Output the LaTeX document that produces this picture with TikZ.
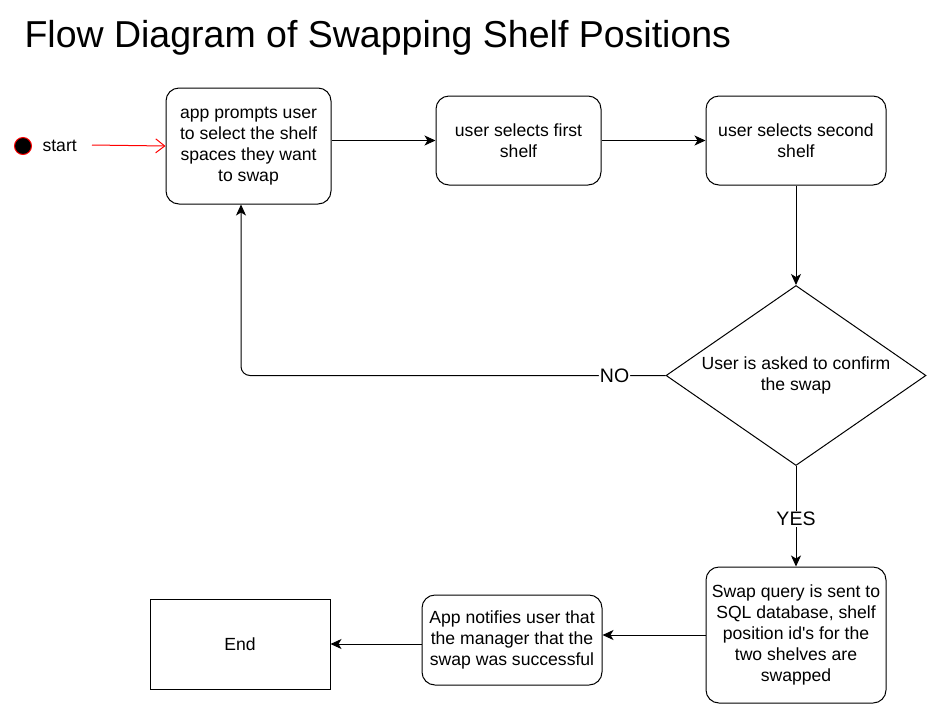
\documentclass[tikz,border=0pt]{standalone}
\usepackage{fontspec}
\setmainfont{Liberation Sans}
\usetikzlibrary{arrows.meta,shapes.geometric}

\tikzset{
    stepbox/.style={draw, line width=1pt, rounded corners=13pt, align=center,
        inner sep=0pt, font=\fontsize{17.6}{21}\selectfont},
    endbox/.style={draw, line width=1pt, align=center, inner sep=0pt,
        font=\fontsize{17.6}{21}\selectfont},
    decision/.style={draw, diamond, aspect=1.44, line width=1pt, align=center, inner sep=0pt,
        font=\fontsize{17.6}{21}\selectfont},
    flow/.style={line width=1pt, -{Stealth[length=11pt,width=10pt,inset=3pt]}},
    lbl/.style={fill=white, inner sep=1pt, font=\fontsize{19.5}{21}\selectfont},
}

\begin{document}
\begin{tikzpicture}[x=1pt, y=-1pt]
    \useasboundingbox (0,0) rectangle (929,705);

    \node[anchor=base west, font=\fontsize{37.5}{42}\selectfont] (title) at (21,47)
        {Flow Diagram of Swapping Shelf Positions};

    % start point
    \node[circle, fill=black, draw=red, line width=1pt, minimum size=17, inner sep=0pt] (startdot) at (23,146) {};
    \node[anchor=west, font=\fontsize{17.6}{21}\selectfont] (startlbl) at (39,146) {start};
    \coordinate (starttail) at (92,145);

    % steps
    \node[stepbox, minimum width=165, minimum height=116] (prompt) at (248.5,146)
        {app prompts user\\to select the shelf\\spaces they want\\to swap};
    \node[stepbox, minimum width=165, minimum height=89] (first) at (518.5,140.5)
        {user selects first\\shelf};
    \node[stepbox, minimum width=180, minimum height=89] (second) at (796,140.5)
        {user selects second\\shelf};
    \node[decision, minimum width=260, minimum height=180] (confirm) at (796,375.5)
        {User is asked to confirm\\the swap};
    \node[stepbox, minimum width=180, minimum height=136] (query) at (796,635)
        {Swap query is sent to\\SQL database, shelf\\position id\textquotesingle s for the\\two shelves are\\swapped};
    \node[stepbox, minimum width=180, minimum height=90] (notify) at (512,640)
        {App notifies user that\\the manager that the\\swap was successful};
    \node[endbox, minimum width=180, minimum height=90] (end) at (240,644)
        {End};

    % connectors
    \draw[red, line width=1pt, -{Straight Barb[length=9pt,width=14pt]}] (starttail) -- (prompt.west);
    \draw[flow] (prompt.east |- first.west) -- (first.west);
    \draw[flow] (first.east) -- (second.west);
    \draw[flow] (second.south) -- (confirm.north);
    \draw[flow, rounded corners=9pt] (confirm.west) -| ([xshift=-7.5]prompt.south)
        node[lbl, pos=0.06] {NO};
    \draw[flow] (confirm.south) -- (query.north)
        node[lbl, pos=0.53] {YES};
    \draw[flow] (query.west) -- (query.west -| notify.east);
    \draw[flow] (notify.west |- end.east) -- (end.east);
\end{tikzpicture}
\end{document}
